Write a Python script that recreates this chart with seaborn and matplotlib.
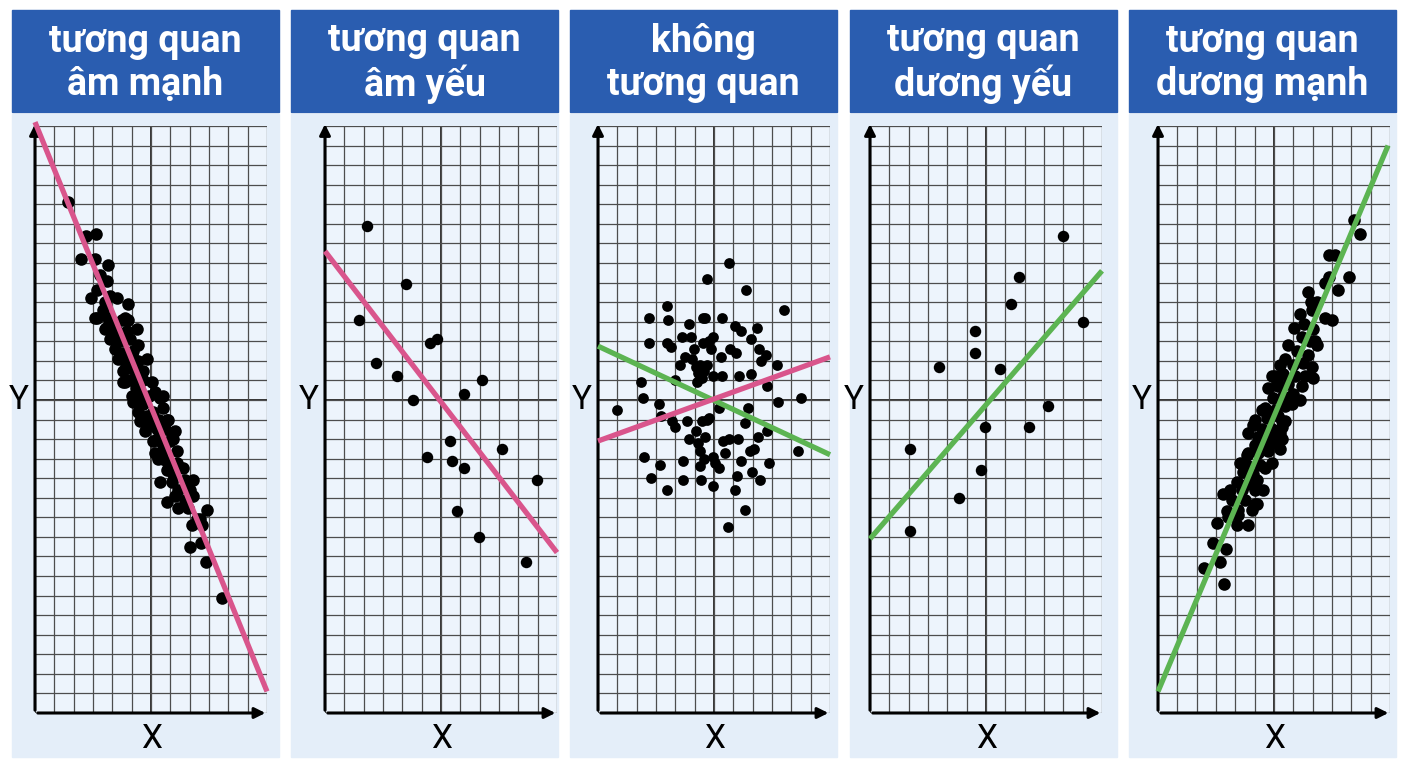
import numpy as np
import pandas as pd
import matplotlib.pyplot as plt
import seaborn as sns
from matplotlib.patches import Rectangle

titles = ["tương quan\nâm mạnh", "tương quan\nâm yếu", "không\ntương quan",
          "tương quan\ndương yếu", "tương quan\ndương mạnh"]

# points (x, y), grid units: x 0..12, y 0..30
neg_strong = np.array([
    [1.72, 26.1], [2.62, 24.4], [3.14, 24.5], [2.36, 23.2], [3.10, 23.2], [3.79, 22.9],
    [3.36, 22.4], [3.74, 22.1], [3.19, 21.6], [2.90, 21.2], [4.83, 20.9], [4.22, 21.2],
    [3.19, 20.2], [3.53, 20.6], [4.66, 20.2], [5.26, 19.6], [3.67, 19.7], [3.97, 19.2],
    [5.35, 18.8], [5.78, 18.1], [4.57, 16.9], [6.64, 16.2], [6.81, 15.0], [7.24, 14.4],
    [5.35, 15.4], [5.60, 14.9], [3.10, 20.2], [3.62, 21.0], [3.88, 21.3], [3.79, 20.2],
    [3.62, 19.6], [4.05, 20.0], [4.48, 20.1], [4.83, 20.1], [4.22, 19.5], [4.74, 19.5],
    [3.88, 19.1], [4.40, 19.0], [4.91, 19.1], [4.14, 18.6], [4.57, 18.4], [5.09, 18.5],
    [4.31, 18.1], [4.83, 18.0], [5.34, 18.0], [4.57, 17.5], [5.09, 17.6], [5.60, 17.5],
    [4.66, 16.9], [5.26, 17.1], [6.03, 16.9], [5.00, 16.2], [5.43, 16.4], [6.20, 16.4],
    [6.47, 16.1], [5.09, 15.9], [5.60, 15.8], [6.64, 15.6], [6.12, 15.4], [6.90, 15.0],
    [5.43, 14.9], [5.86, 14.9], [5.69, 14.4], [6.29, 14.5], [6.72, 14.5], [7.07, 14.2],
    [6.12, 13.9], [6.55, 13.8], [6.98, 13.9], [6.21, 13.3], [6.64, 13.4], [7.33, 13.4],
    [6.38, 13.0], [6.90, 12.8], [7.33, 12.8], [6.81, 12.4], [7.16, 12.2], [7.67, 12.5],
    [6.47, 11.8], [7.07, 11.8], [7.76, 11.9], [8.19, 11.9], [7.41, 11.4], [8.02, 11.4],
    [7.24, 11.1], [7.76, 10.9], [8.19, 11.1], [6.81, 10.8], [7.41, 10.5], [7.93, 10.5],
    [8.88, 10.4], [8.36, 9.9], [8.10, 9.6], [7.16, 14.0], [8.54, 9.9], [8.62, 9.6],
    [8.02, 8.5], [8.59, 8.7], [8.85, 7.7], [9.66, 5.9], [4.90, 17.0], [5.20, 16.6],
    [5.50, 16.0], [5.80, 15.2], [6.00, 14.7], [6.30, 14.0], [5.90, 16.2], [6.40, 15.0],
    [5.00, 18.3], [4.70, 17.8], [5.60, 17.0], [6.60, 13.0],
])

neg_weak = np.array([
    [2.19, 24.9], [4.19, 21.9], [1.76, 20.1], [5.43, 18.9], [5.81, 19.1], [2.64, 17.9],
    [3.74, 17.2], [8.14, 17.0], [4.57, 16.0], [7.19, 16.3], [6.47, 13.9], [5.26, 13.1],
    [6.55, 12.9], [9.17, 13.5], [7.19, 12.5], [10.98, 11.9], [6.84, 10.3], [7.98, 9.0],
    [10.38, 7.7],
])

no_corr = np.array([
    [6.79, 23.0], [5.66, 22.2], [7.66, 21.6], [9.60, 20.6], [3.57, 20.8], [2.66, 20.2],
    [3.62, 20.1], [5.41, 20.2], [5.55, 20.2], [6.41, 20.2], [4.69, 19.9], [7.10, 19.8],
    [7.40, 19.5], [8.24, 19.7], [2.66, 18.9], [3.57, 18.9], [3.76, 18.7], [4.34, 19.2],
    [4.83, 19.2], [5.95, 19.2], [5.41, 18.9], [5.72, 19.0], [4.95, 18.6], [5.84, 18.6],
    [6.81, 18.6], [7.14, 18.4], [7.93, 19.1], [8.31, 18.6], [8.71, 18.3], [8.45, 18.0],
    [6.36, 18.2], [4.52, 18.2], [4.86, 18.1], [4.22, 17.8], [5.07, 17.7], [5.29, 17.8],
    [5.64, 17.8], [5.17, 17.4], [5.47, 17.5], [5.12, 16.9], [5.38, 17.1], [5.95, 17.2],
    [6.41, 17.2], [7.31, 17.2], [7.90, 17.3], [9.28, 17.8], [8.74, 16.7], [4.00, 17.0],
    [2.21, 16.9], [2.31, 16.1], [0.98, 15.5], [3.17, 15.8], [3.26, 15.2], [6.24, 15.6],
    [7.76, 15.6], [9.31, 15.9], [10.50, 16.1], [3.83, 14.9], [4.60, 14.9], [4.00, 14.6],
    [5.38, 14.9], [5.64, 15.0], [5.76, 15.1], [7.62, 14.8], [5.09, 14.4], [4.72, 14.0],
    [5.52, 14.1], [5.16, 13.8], [5.26, 13.4], [6.45, 13.9], [6.79, 14.0], [7.24, 14.0],
    [6.55, 13.3], [8.28, 14.1], [8.76, 14.4], [7.88, 13.4], [8.09, 13.5], [10.34, 13.4],
    [2.38, 13.1], [3.22, 12.7], [4.38, 12.9], [5.47, 13.0], [5.29, 12.6], [5.93, 13.1],
    [6.03, 12.8], [6.28, 12.5], [7.41, 12.9], [8.83, 12.8], [2.76, 12.0], [3.57, 11.4],
    [4.41, 11.9], [5.34, 11.9], [5.95, 11.6], [7.21, 12.1], [7.10, 11.4], [7.97, 12.3],
    [8.40, 11.9], [7.62, 10.4], [6.72, 9.5],
])

pos_weak = np.array([
    [10.0, 24.4], [7.71, 22.3], [7.29, 20.9], [11.0, 20.0], [5.43, 19.5], [5.43, 18.4],
    [3.59, 17.7], [6.72, 17.6], [9.19, 15.7], [5.95, 14.6], [8.24, 14.6], [2.09, 13.5],
    [5.74, 12.4], [4.60, 11.0], [2.09, 9.3],
])

pos_strong = np.array([
    [10.45, 24.5], [10.16, 25.2], [8.85, 23.4], [9.16, 23.4], [9.90, 22.3], [8.64, 22.0],
    [8.85, 22.3], [9.33, 21.6], [7.74, 21.5], [7.92, 21.0], [8.21, 21.0], [7.35, 20.4],
    [8.64, 20.2], [8.98, 20.1], [7.05, 19.7], [7.55, 19.9], [8.04, 19.6], [8.12, 19.0],
    [8.21, 18.8], [6.74, 18.8], [7.74, 18.3], [6.31, 17.8], [7.98, 17.7], [5.88, 17.2],
    [6.14, 16.9], [8.04, 17.1], [5.71, 16.6], [7.35, 16.0], [5.36, 15.5], [5.02, 15.0],
    [4.67, 14.3], [6.40, 14.9], [6.31, 14.3], [7.95, 20.6], [7.43, 19.2], [7.86, 19.0],
    [7.17, 18.5], [6.57, 18.1], [7.00, 17.8], [7.52, 17.9], [6.05, 17.2], [6.48, 17.3],
    [7.09, 17.2], [7.60, 17.2], [6.22, 16.7], [6.74, 16.8], [7.43, 16.7], [5.97, 16.1],
    [6.48, 16.2], [7.00, 16.3], [5.53, 15.6], [6.05, 15.5], [6.57, 15.7], [6.91, 15.8],
    [5.62, 15.1], [6.22, 15.2], [6.57, 14.9], [4.93, 14.7], [5.36, 14.5], [5.88, 14.5],
    [6.40, 14.6], [5.19, 14.1], [5.79, 14.0], [6.40, 14.0], [5.02, 13.7], [5.53, 13.7],
    [6.05, 13.8], [4.67, 13.3], [5.19, 13.3], [5.71, 13.4], [6.31, 13.5], [4.24, 12.8],
    [4.67, 12.6], [5.28, 12.7], [5.88, 12.8], [4.41, 12.3], [4.93, 12.2], [5.53, 12.5],
    [4.07, 11.8], [4.60, 11.7], [5.10, 11.9], [3.72, 11.4], [4.33, 11.4], [5.02, 11.4],
    [5.45, 11.4], [3.38, 11.2], [3.81, 10.9], [4.50, 10.9], [5.02, 10.7], [3.55, 10.3],
    [4.16, 10.4], [3.03, 9.7], [3.64, 10.0], [4.07, 9.6], [4.67, 9.6], [4.59, 13.2],
    [5.10, 10.7], [4.84, 10.4], [4.16, 10.1], [2.86, 8.7], [3.50, 8.4], [3.21, 7.7],
    [2.38, 7.4], [3.41, 6.6],
])

point_sets = [neg_strong, neg_weak, no_corr, pos_weak, pos_strong]
point_sizes = [82, 68, 60, 68, 82]

# trend lines: (x ends, y ends, colour)
pink = "#d9558c"
green = "#5cb452"
trend_lines = [
    [([0, 12], [30.2, 1.1], pink)],
    [([0, 12], [23.6, 8.2], pink)],
    [([0, 12], [18.75, 13.2], green), ([0, 12], [13.9, 18.2], pink)],
    [([0, 12], [8.9, 22.6], green)],
    [([0, 11.9], [1.1, 29.0], green)],
]

W, H = 1408, 768
panel_left = [12, 291, 570, 850, 1129]
axes_left = [35, 325, 598, 870, 1158]

plt.rcParams['font.family'] = ['Roboto', 'DejaVu Sans']
fig = plt.figure(figsize=(W / 100, H / 100), dpi=100)
fig.patch.set_facecolor("white")

for i in range(5):
    x0 = panel_left[i]
    # header and body backgrounds
    fig.add_artist(Rectangle((x0 / W, 1 - 112 / H), 267 / W, 102 / H,
                             transform=fig.transFigure, color="#2a5db0", zorder=-2))
    fig.add_artist(Rectangle((x0 / W, 1 - 757 / H), 267 / W, 643 / H,
                             transform=fig.transFigure, color="#e4eef9", zorder=-2))
    fig.text((x0 + 133.5) / W, 1 - 63 / H, titles[i], color="white", fontsize=27,
             fontweight="bold", ha="center", va="center", linespacing=1.2)

    ax = fig.add_axes([axes_left[i] / W, 1 - 713 / H, 232 / W, 587 / H])
    ax.set_facecolor("#edf4fc")
    ax.set_xlim(0, 12)
    ax.set_ylim(0, 30)
    ax.set_xticks(range(13))
    ax.set_yticks(range(31))
    ax.grid(True, color="#4d4d4d", lw=0.9)
    ax.axvline(6, color="#333333", lw=1.4, zorder=1)
    ax.axhline(16, color="#333333", lw=1.4, zorder=1)
    ax.tick_params(length=0, labelbottom=False, labelleft=False)
    for s in ax.spines.values():
        s.set_visible(False)

    pts = pd.DataFrame(point_sets[i], columns=["x", "y"])
    sns.scatterplot(data=pts, x="x", y="y", ax=ax, color="black", s=point_sizes[i],
                    linewidth=0, zorder=3, clip_on=False)
    for xs, ys, c in trend_lines[i]:
        sns.lineplot(x=xs, y=ys, ax=ax, color=c, lw=3.8, zorder=4,
                     solid_capstyle="butt", clip_on=False)

    # axis arrows
    ax.annotate("", xy=(0, 1.008), xytext=(0, 0), xycoords="axes fraction",
                arrowprops=dict(arrowstyle="-|>", lw=2.2, color="black", mutation_scale=16))
    ax.annotate("", xy=(1.005, 0), xytext=(0, 0), xycoords="axes fraction",
                arrowprops=dict(arrowstyle="-|>", lw=2.2, color="black", mutation_scale=16))
    ax.set_xlabel("")
    ax.set_ylabel("")
    ax.text(-16 / 232, 16 / 30, "Y", transform=ax.transAxes, fontsize=24,
            ha="center", va="center")
    ax.text(0.5, -26 / 587, "X", transform=ax.transAxes, fontsize=24,
            ha="center", va="center")

fig.savefig("out.png", dpi=100)
